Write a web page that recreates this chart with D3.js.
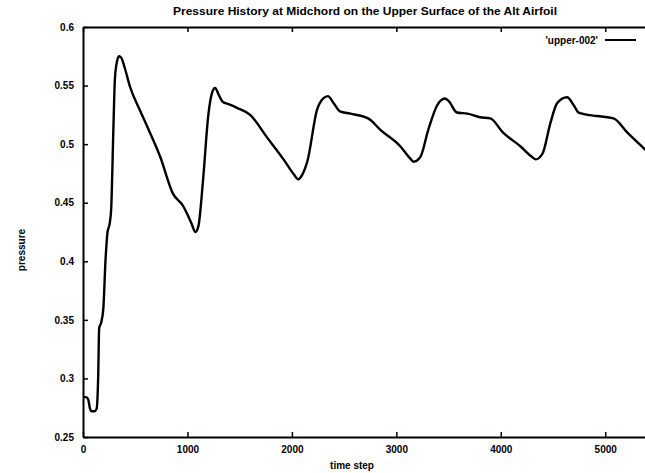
<!DOCTYPE html>
<html>
<head>
<meta charset="utf-8">
<script src="https://cdn.jsdelivr.net/npm/d3@7"></script>
<style>
  body { margin: 0; background: #fff; }
  svg { display: block; }
  text { font-family: "Liberation Sans", Arial, sans-serif; font-weight: bold; fill: #000; }
</style>
</head>
<body>
<div id="chart"></div>
<script>
// Data
const timeSteps = [0, 30, 50, 65, 80, 110, 130, 145, 155, 175, 195, 215, 235, 255, 270, 290, 305, 320, 345, 365,
  400, 450, 545, 620, 740, 860, 960, 1000, 1040, 1075, 1105, 1150, 1200, 1240, 1265, 1300, 1340, 1400, 1475, 1600,
  1760, 1920, 2020, 2060, 2100, 2150, 2240, 2300, 2345, 2400, 2460, 2560, 2730, 2850, 3040, 3130, 3165, 3230, 3305, 3390,
  3465, 3500, 3580, 3680, 3800, 3900, 4020, 4190, 4300, 4335, 4400, 4475, 4540, 4635, 4700, 4745, 4920, 5080, 5210, 5400];
const pressure = [0.284, 0.284, 0.282, 0.275, 0.272, 0.272, 0.274, 0.300, 0.343, 0.348, 0.360, 0.400, 0.425, 0.432, 0.445, 0.510, 0.555, 0.568, 0.575, 0.574,
  0.565, 0.549, 0.529, 0.514, 0.489, 0.458, 0.447, 0.440, 0.432, 0.425, 0.430, 0.470, 0.525, 0.545, 0.548, 0.542, 0.536, 0.534, 0.531, 0.525,
  0.506, 0.487, 0.474, 0.470, 0.474, 0.486, 0.529, 0.539, 0.541, 0.535, 0.528, 0.526, 0.522, 0.512, 0.498, 0.488, 0.485, 0.489, 0.512, 0.533,
  0.539, 0.537, 0.527, 0.526, 0.523, 0.522, 0.510, 0.498, 0.489, 0.487, 0.492, 0.518, 0.535, 0.540, 0.533, 0.527, 0.524, 0.522, 0.510, 0.494];
const xTicks = [0, 1000, 2000, 3000, 4000, 5000];
const yTicks = [0.25, 0.3, 0.35, 0.4, 0.45, 0.5, 0.55, 0.6];
const seriesName = "'upper-002'";

const width = 645, height = 473;
const margin = { top: 27, left: 83, bottom: 36 };

const svg = d3.select("#chart").append("svg")
  .attr("width", width)
  .attr("height", height);

// plot runs a little past the window on the right
const x = d3.scaleLinear().domain([0, 5400]).range([margin.left, 647]);
const y = d3.scaleLinear().domain([0.25, 0.6]).range([height - margin.bottom, margin.top]);

// Axes with inward ticks
svg.append("g")
  .attr("transform", `translate(0,${y(0.25)})`)
  .call(d3.axisBottom(x).tickValues(xTicks).tickSizeInner(-5).tickSizeOuter(0).tickPadding(9).tickFormat(d3.format("d")))
  .call(g => g.select(".domain").attr("stroke-width", 2));

svg.append("g")
  .attr("transform", `translate(0,${y(0.6)})`)
  .call(d3.axisTop(x).tickValues(xTicks).tickSizeInner(-5).tickSizeOuter(0).tickFormat(""))
  .call(g => g.select(".domain").attr("stroke-width", 2));

svg.append("g")
  .attr("transform", `translate(${x(0)},0)`)
  .call(d3.axisLeft(y).tickValues(yTicks).tickSizeInner(-5).tickSizeOuter(0).tickPadding(9).tickFormat(d => d3.format("")(+d.toFixed(2))))
  .call(g => g.select(".domain").attr("stroke-width", 2));

svg.selectAll(".tick line").attr("stroke-width", 1.5);
svg.selectAll(".tick text").attr("font-size", 10);

// Curve
const points = timeSteps.map((t, i) => [t, pressure[i]]);
svg.append("path")
  .datum(points)
  .attr("fill", "none")
  .attr("stroke", "#000")
  .attr("stroke-width", 2.4)
  .attr("stroke-linejoin", "round")
  .attr("d", d3.line().x(d => x(d[0])).y(d => y(d[1])).curve(d3.curveMonotoneX));

// Title and labels
svg.append("text")
  .attr("x", 365).attr("y", 15)
  .attr("text-anchor", "middle")
  .attr("font-size", 11)
  .attr("textLength", 384)
  .attr("lengthAdjust", "spacingAndGlyphs")
  .text("Pressure History at Midchord on the Upper Surface of the Alt Airfoil");

svg.append("text")
  .attr("x", 352).attr("y", 469)
  .attr("text-anchor", "middle")
  .attr("font-size", 10)
  .text("time step");

svg.append("text")
  .attr("transform", "translate(25,250) rotate(-90)")
  .attr("text-anchor", "middle")
  .attr("font-size", 10)
  .text("pressure");

// Legend
svg.append("text")
  .attr("x", 598).attr("y", 44)
  .attr("text-anchor", "end")
  .attr("font-size", 10)
  .text(seriesName);

svg.append("line")
  .attr("x1", 605).attr("x2", 636)
  .attr("y1", 40).attr("y2", 40)
  .attr("stroke", "#000")
  .attr("stroke-width", 2);
</script>
</body>
</html>
